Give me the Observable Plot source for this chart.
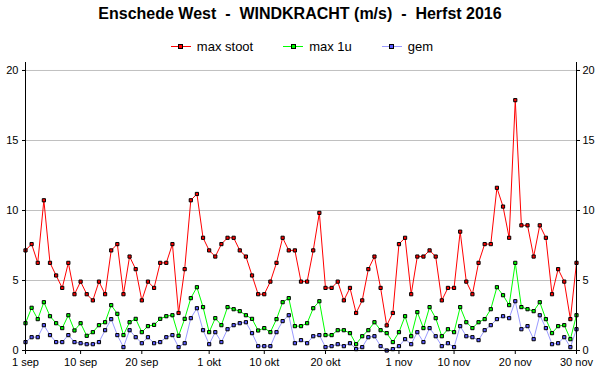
<!DOCTYPE html>
<html>
<head>
<meta charset="utf-8">
<script src="https://cdn.jsdelivr.net/npm/d3@7"></script>
<script src="https://cdn.jsdelivr.net/npm/@observablehq/plot@0.6"></script>
<style>
  html, body { margin: 0; padding: 0; background: #fff; }
  #wrap { width: 600px; height: 390px; font-family: "Liberation Sans", Arial, sans-serif; }
  #title { height: 28px; line-height: 28px; text-align: center; font-weight: bold; font-size: 16px; white-space: pre; color: #000; }
  #legend { height: 28px; margin-top: 4px; display: flex; justify-content: center; align-items: center; font-size: 13px; color: #000; padding-left: 4px; }
  .item { display: flex; align-items: center; margin: 0 15px; }
  .sample { position: relative; width: 20px; height: 10px; margin-right: 6px; }
  .sample .ln { position: absolute; left: 0; right: 0; top: 4.5px; height: 1px; }
  .sample .mk { position: absolute; left: 7.5px; top: 2.5px; width: 3px; height: 3px; border: 1px solid #000; }
  svg { display: block; }
</style>
</head>
<body>
<div id="wrap">
  <div id="title">Enschede West  -  WINDKRACHT (m/s)  -  Herfst 2016</div>
  <div id="legend"></div>
  <div id="chart"></div>
</div>
<script>
// Series names and colours
const seriesNames = ["max stoot", "max 1u", "gem"];

// Values per day, 1 sep .. 30 nov 2016 (m/s)
const maxStoot = [7.15, 7.6, 6.26, 10.73, 6.26, 5.36, 4.47, 6.26, 4.02, 4.92,
  4.02, 3.58, 4.92, 4.02, 7.15, 7.6, 4.02, 6.71, 5.81, 3.58,
  4.92, 4.47, 6.26, 6.26, 7.6, 2.68, 5.81, 10.73, 11.18, 8.05,
  7.15, 6.71, 7.6, 8.05, 8.05, 7.15, 6.71, 5.36, 4.02, 4.02,
  4.92, 6.26, 8.05, 7.15, 7.15, 4.92, 4.92, 7.15, 9.83, 4.47,
  4.47, 4.92, 3.58, 4.47, 2.68, 3.58, 5.81, 6.71, 4.47, 1.79,
  2.68, 7.6, 8.05, 4.02, 6.71, 6.71, 7.15, 6.71, 3.58, 4.47,
  4.47, 8.49, 4.92, 4.02, 6.26, 7.6, 7.6, 11.62, 10.28, 8.05,
  17.88, 8.94, 8.94, 6.71, 8.94, 8.05, 4.02, 5.81, 4.92, 2.24,
  6.26];
const max1u = [1.95, 3.05, 2.24, 3.45, 2.45, 1.95, 1.6, 2.52, 1.43, 1.95,
  1.05, 1.31, 1.81, 2.02, 3.24, 2.62, 1.1, 2.02, 2.26, 1.31,
  1.74, 1.83, 2.26, 2.45, 2.52, 1.05, 2.26, 3.74, 4.52, 3.1,
  1.31, 2.31, 1.81, 3.1, 2.95, 2.81, 2.52, 2.26, 1.43, 1.6,
  1.31, 2.24, 3.45, 3.74, 1.74, 1.74, 1.95, 3.02, 3.52, 1.1,
  1.1, 1.45, 1.45, 1.24, 0.45, 1.02, 1.45, 2.02, 1.45, 1.24,
  0.6, 1.31, 2.45, 1.02, 2.74, 1.6, 3.1, 2.31, 1.02, 1.52,
  1.31, 3.1, 2.02, 1.6, 2.02, 2.24, 2.95, 4.52, 3.95, 3.24,
  6.26, 3.1, 2.95, 2.81, 3.45, 2.24, 1.24, 1.74, 1.81, 0.81,
  2.52];
const gem = [0.6, 0.95, 0.95, 1.81, 1.1, 0.6, 0.6, 1.1, 0.6, 0.52,
  0.45, 0.45, 0.6, 1.45, 2.24, 1.1, 0.24, 1.45, 0.95, 0.52,
  0.95, 0.52, 0.6, 0.95, 1.1, 0.24, 0.52, 2.31, 3.02, 1.45,
  0.45, 1.31, 0.6, 1.52, 1.81, 1.95, 2.02, 1.24, 0.31, 0.31,
  0.31, 1.31, 2.1, 2.52, 0.52, 0.74, 0.52, 1.02, 1.1, 0.24,
  0.31, 0.45, 0.31, 0.52, 0.1, 0.24, 0.95, 1.02, 0.31, 0.0,
  0.1, 0.31, 0.81, 0.45, 1.31, 0.6, 1.6, 1.02, 0.31, 0.52,
  0.24, 1.74, 1.02, 0.95, 0.74, 1.45, 1.81, 2.24, 2.45, 2.31,
  3.52, 1.52, 1.74, 0.81, 2.52, 1.6, 0.45, 0.52, 0.95, 0.24,
  1.52];

// X tick labels and their dates
const tickLabels = ["1 sep", "10 sep", "20 sep", "1 okt", "10 okt", "20 okt", "1 nov", "10 nov", "20 nov", "30 nov"];
const tickDays = [[8, 1], [8, 10], [8, 20], [9, 1], [9, 10], [9, 20], [10, 1], [10, 10], [10, 20], [10, 30]];
const yTicks = [0, 5, 10, 15, 20];

const start = new Date(Date.UTC(2016, 8, 1));
const end = new Date(Date.UTC(2016, 10, 30));
const tickDates = tickDays.map(([m, d]) => new Date(Date.UTC(2016, m, d)));

const styles = {
  "max stoot": {line: "#ff0000", fill: "#ff0000"},
  "max 1u": {line: "#00ff00", fill: "#00ff00"},
  "gem": {line: "#9a9aff", fill: "#5a5aff"}
};
const valuesBySeries = {"max stoot": maxStoot, "max 1u": max1u, "gem": gem};
const drawOrder = ["gem", "max 1u", "max stoot"];

// legend
const legend = document.getElementById("legend");
for (const name of seriesNames) {
  const it = document.createElement("div");
  it.className = "item";
  it.innerHTML = `<div class="sample"><div class="ln" style="background:${styles[name].line}"></div><div class="mk" style="background:${styles[name].fill}"></div></div><span>${name}</span>`;
  legend.appendChild(it);
}

const marks = [
  Plot.gridY([5, 10, 15, 20], {stroke: "#c0c0c0", strokeOpacity: 1})
];
for (const name of drawOrder) {
  const data = valuesBySeries[name].map((v, i) => ({date: d3.utcDay.offset(start, i), v}));
  marks.push(Plot.line(data, {x: "date", y: "v", stroke: styles[name].line, strokeWidth: 1}));
  marks.push(Plot.dot(data, {x: "date", y: "v", symbol: "square", r: 1.8, fill: styles[name].fill, stroke: "#000", strokeWidth: 1}));
}
marks.push(
  Plot.ruleY([0], {stroke: "#000"}),
  Plot.ruleX([start], {stroke: "#000"}),
  Plot.ruleX([end], {stroke: "#000"}),
  Plot.axisX({ticks: tickDates, tickFormat: (d, i) => tickLabels[i], tickSize: 4, tickPadding: 4, fontSize: 11, stroke: "#000", label: null}),
  Plot.axisY({anchor: "left", ticks: yTicks, tickSize: 3, tickPadding: 4, fontSize: 11, label: null}),
  Plot.axisY({anchor: "right", ticks: yTicks, tickSize: 3, tickPadding: 3, fontSize: 11, label: null})
);

const chart = Plot.plot({
  width: 600,
  height: 330,
  marginTop: 2,
  marginBottom: 40,
  marginLeft: 25,
  marginRight: 24,
  style: {fontFamily: "Liberation Sans, Arial, sans-serif", fontSize: "11px", color: "#000", background: "#fff"},
  x: {type: "utc", domain: [start, end], label: null},
  y: {domain: [0, 20.57], label: null},
  marks
});
document.getElementById("chart").appendChild(chart);
</script>
</body>
</html>
